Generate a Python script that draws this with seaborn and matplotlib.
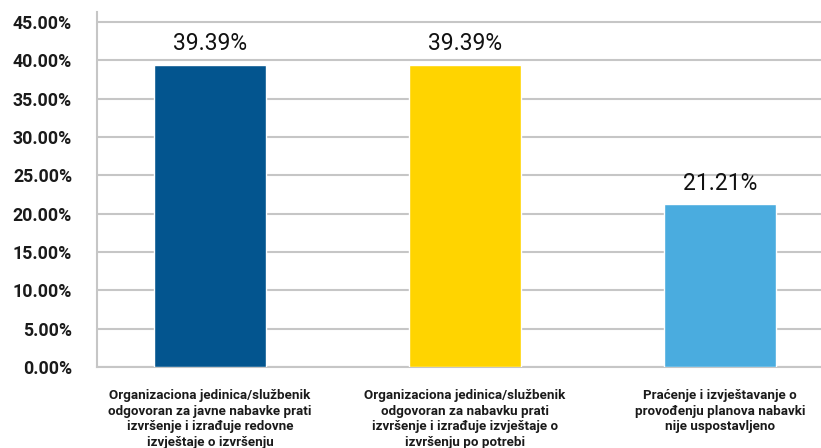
import numpy as np
import pandas as pd
import seaborn as sns
import matplotlib.pyplot as plt
from matplotlib.ticker import FuncFormatter, FixedLocator

# Data (percent)
CATEGORIES = [
    "Organizaciona jedinica/službenik\nodgovoran za javne nabavke prati\nizvršenje i izrađuje redovne\nizvještaje o izvršenju",
    "Organizaciona jedinica/službenik\nodgovoran za nabavku prati\nizvršenje i izrađuje izvještaje o\nizvršenju po potrebi",
    "Praćenje i izvještavanje o\nprovođenju planova nabavki\nnije uspostavljeno",
]
VALUES = [39.39, 39.39, 21.21]
COLORS = ["#03558F", "#FFD400", "#4AACDF"]
Y_TICKS = [0, 5, 10, 15, 20, 25, 30, 35, 40, 45]

GRID = "#c6c6c6"

sns.set_style("white")
plt.rcParams["font.family"] = ["Roboto", "DejaVu Sans"]

df = pd.DataFrame({"cat": CATEGORIES, "val": VALUES})

fig = plt.figure(figsize=(8.21, 4.48), dpi=100)
ax = fig.add_axes([97 / 821, (448 - 367) / 448, 1 - 97 / 821, (367 - 12) / 448])

sns.barplot(data=df, x="cat", y="val", hue="cat", palette=COLORS,
            legend=False, width=0.44, saturation=1, ax=ax, zorder=3)

ax.set_xlim(-0.443, 2.396)
ax.set_ylim(0, 46.3)
ax.yaxis.set_major_locator(FixedLocator(Y_TICKS))
ax.yaxis.set_major_formatter(FuncFormatter(lambda v, p: f"{v:.2f}%"))
ax.grid(axis="y", color=GRID, linewidth=1.5, zorder=0)
ax.set_axisbelow(True)

for s in ["top", "right"]:
    ax.spines[s].set_visible(False)
for s in ["left", "bottom"]:
    ax.spines[s].set_color(GRID)
    ax.spines[s].set_linewidth(1.5)

# category boundary tick marks below the x axis
ax.set_xticks([-0.443, 0.5, 1.5], minor=True)
ax.tick_params(axis="x", which="minor", direction="out", length=6,
               width=1.5, color=GRID)
ax.tick_params(axis="x", which="major", length=0, pad=16,
               labelsize=9.6, labelcolor="#1a1a1a")
ax.tick_params(axis="y", direction="out", length=5, width=1.5, color=GRID,
               pad=13, labelsize=12.8, labelcolor="#1a1a1a")
for lab in ax.get_yticklabels():
    lab.set_fontweight("semibold")
for lab in ax.get_xticklabels():
    lab.set_fontweight("semibold")
    lab.set_linespacing(1.25)
    lab.set_verticalalignment("top")

ax.set_xlabel("")
ax.set_ylabel("")

for cont in ax.containers:
    ax.bar_label(cont, fmt="%.2f%%", padding=7, fontsize=16.5, color="#111111")

fig.savefig("out.png", dpi=100)
